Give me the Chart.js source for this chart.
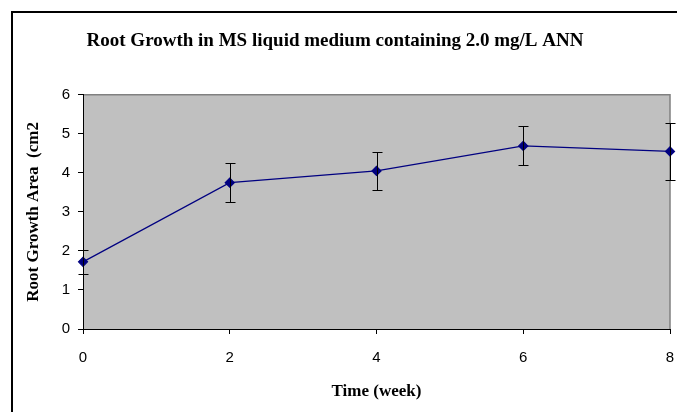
<!DOCTYPE html>
<html>
<head>
<meta charset="utf-8">
<script src="https://cdn.jsdelivr.net/npm/chart.js@4"></script>
<style>
  html, body { margin: 0; padding: 0; background: #fff; }
  #wrap { position: relative; width: 677px; height: 412px; overflow: hidden; }
  #frame { position: absolute; left: 11px; top: 11px; width: 700px; height: 430px; border: 2px solid #000; box-sizing: border-box; }
  canvas { position: absolute; left: 0; top: 0; }
</style>
</head>
<body>
<div id="wrap">
  <div id="frame"></div>
  <canvas id="chart" width="677" height="412"></canvas>
</div>
<script>
// --- Data ---
const weeks = [0, 2, 4, 6, 8];
const rootArea = [1.72, 3.75, 4.05, 4.69, 4.55];
const rootErr = [0.30, 0.50, 0.48, 0.50, 0.73];
const yTicks = [0, 1, 2, 3, 4, 5, 6];

// gray plot background with a darker top/right edge
const plotBackground = {
    id: 'plotBackground',
    beforeDraw(chart) {
        const { ctx, chartArea: a } = chart;
        ctx.save();
        ctx.fillStyle = '#c0c0c0';
        ctx.fillRect(a.left, a.top, a.right - a.left, a.bottom - a.top);
        ctx.strokeStyle = '#808080';
        ctx.lineWidth = 1.5;
        ctx.beginPath();
        ctx.moveTo(a.left, a.top);
        ctx.lineTo(a.right, a.top);
        ctx.lineTo(a.right, a.bottom);
        ctx.stroke();
        ctx.restore();
    }
};

// vertical error bars with caps, drawn through the scales
const errorBars = {
    id: 'errorBars',
    afterDatasetsDraw(chart) {
        const { ctx, scales: { x, y } } = chart;
        ctx.save();
        ctx.strokeStyle = '#000';
        ctx.lineWidth = 1;
        weeks.forEach((w, i) => {
            const px = Math.round(x.getPixelForValue(w)) + 0.5;
            const top = Math.round(y.getPixelForValue(rootArea[i] + rootErr[i])) + 0.5;
            const bot = Math.round(y.getPixelForValue(rootArea[i] - rootErr[i])) + 0.5;
            ctx.beginPath();
            ctx.moveTo(px, top); ctx.lineTo(px, bot);
            ctx.moveTo(px - 5, top); ctx.lineTo(px + 5, top);
            ctx.moveTo(px - 5, bot); ctx.lineTo(px + 5, bot);
            ctx.stroke();
        });
        ctx.restore();
    }
};

const tickFont = { family: 'Arial, "Liberation Sans", sans-serif', size: 15 };
const labelFont = { family: '"Times New Roman", "Liberation Serif", serif', size: 17, weight: 'bold' };

new Chart(document.getElementById('chart').getContext('2d'), {
    type: 'line',
    data: {
        datasets: [{
            data: weeks.map((w, i) => ({ x: w, y: rootArea[i] })),
            borderColor: '#000080',
            backgroundColor: '#000080',
            borderWidth: 1.2,
            pointStyle: 'rectRot',
            pointRadius: 4.5,
            pointHoverRadius: 4.5,
            tension: 0,
            clip: false
        }]
    },
    options: {
        responsive: false,
        animation: false,
        layout: { padding: { left: 0, right: 7, top: 0, bottom: 0 } },
        plugins: {
            legend: { display: false },
            tooltip: { enabled: false },
            title: {
                display: true,
                text: 'Root Growth in MS liquid medium containing 2.0 mg/L ANN',
                color: '#000',
                font: { family: '"Times New Roman", "Liberation Serif", serif', size: 19, weight: 'bold' },
                padding: { top: 30, bottom: 42 }
            }
        },
        scales: {
            x: {
                type: 'linear',
                min: 0, max: 8,
                afterBuildTicks: s => { s.ticks = weeks.map(v => ({ value: v })); },
                afterFit: s => { s.height = 83; s.paddingLeft = 0; s.paddingRight = 0; },
                grid: { display: true, drawOnChartArea: false, drawTicks: true, tickLength: 5, color: '#000' },
                border: { display: true, color: '#000', width: 1 },
                ticks: { color: '#000', font: tickFont, padding: 15, maxRotation: 0 },
                title: { display: true, text: 'Time (week)', color: '#000', font: labelFont, padding: { top: 0, bottom: 10 } }
            },
            y: {
                min: 0, max: 6,
                afterBuildTicks: s => { s.ticks = yTicks.map(v => ({ value: v })); },
                afterFit: s => { s.width = 83; s.paddingTop = 0; s.paddingBottom = 0; },
                grid: { display: true, drawOnChartArea: false, drawTicks: true, tickLength: 5, color: '#000' },
                border: { display: true, color: '#000', width: 1 },
                ticks: { color: '#000', font: tickFont, padding: 8 },
                title: { display: true, text: 'Root Growth Area  (cm2', color: '#000', font: labelFont, padding: { top: 23, bottom: 0 } }
            }
        }
    },
    plugins: [plotBackground, errorBars]
});
</script>
</body>
</html>
